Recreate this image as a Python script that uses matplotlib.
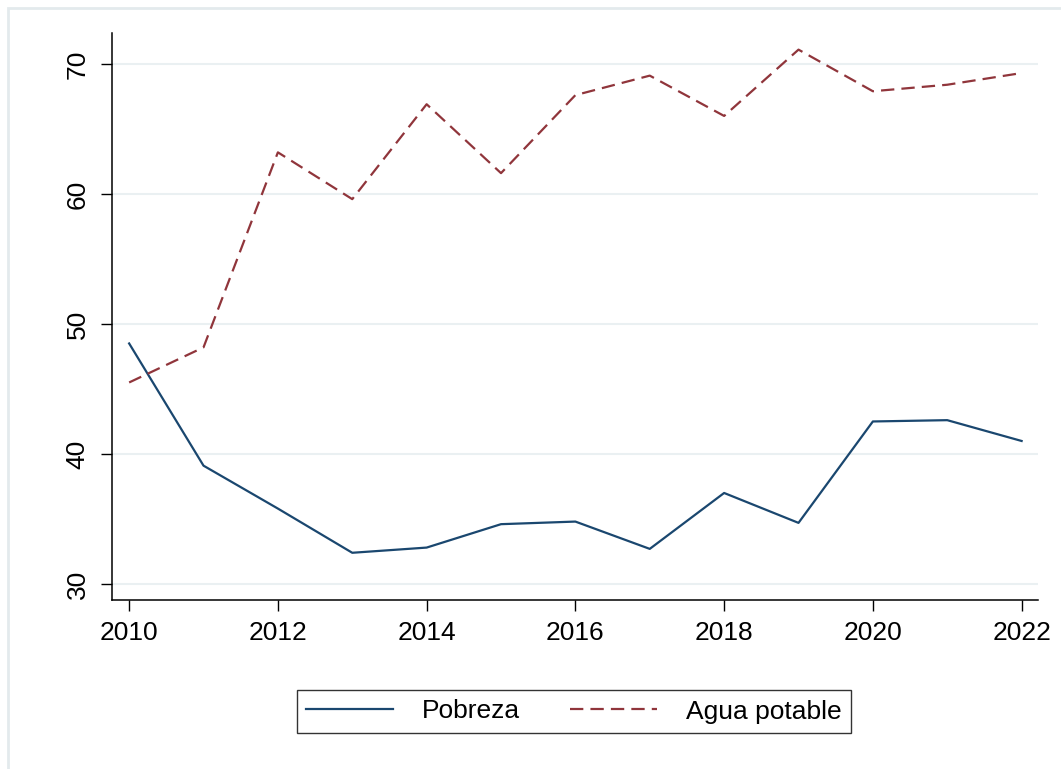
import matplotlib
matplotlib.use("Agg")
import matplotlib.pyplot as plt
from matplotlib.patches import Rectangle

plt.rcParams["font.family"] = ["Liberation Sans", "DejaVu Sans"]

years = [2010, 2011, 2012, 2013, 2014, 2015, 2016, 2017, 2018, 2019, 2020, 2021, 2022]
pobreza = [48.5, 39.1, 35.8, 32.4, 32.8, 34.6, 34.8, 32.7, 37.0, 34.7, 42.5, 42.6, 41.0]
agua = [45.5, 48.2, 63.2, 59.6, 66.9, 61.6, 67.6, 69.1, 66.0, 71.1, 67.9, 68.4, 69.3]
xticks = [2010, 2012, 2014, 2016, 2018, 2020, 2022]
yticks = [30, 40, 50, 60, 70]

NAVY = "#1a476f"
MAROON = "#90353b"
GRID = "#eaf0f2"

fig = plt.figure(figsize=(10.61, 7.69), dpi=100)
ax = fig.add_axes([0.1056, 0.2198, 0.8727, 0.7373])

# light outer frame of the graph region
fig.patches.append(Rectangle((7.5 / 1061, -0.05), 1.1, 1 - 7.5 / 769 + 0.05,
                             transform=fig.transFigure, fill=False,
                             ec="#e3eaed", lw=2.0, zorder=0))

ax.plot(years, pobreza, color=NAVY, lw=1.6, label="Pobreza", zorder=3)
ax.plot(years, agua, color=MAROON, lw=1.6, dashes=(6.0, 3.2),
        label="Agua potable", zorder=3)

ax.set_xlim(2009.77, 2022.22)
ax.set_ylim(28.77, 72.38)
ax.set_xticks(xticks)
ax.set_yticks(yticks)
ax.yaxis.grid(True, color=GRID, lw=1.5, zorder=0)
ax.set_axisbelow(True)

for s in ("top", "right"):
    ax.spines[s].set_visible(False)
for s in ("left", "bottom"):
    ax.spines[s].set_linewidth(1.1)
    ax.spines[s].set_color("black")

ax.tick_params(axis="both", length=8, width=1.0, labelsize=19, pad=7)
ax.tick_params(axis="y", pad=8)
for lab in ax.get_yticklabels():
    lab.set_rotation(90)
    lab.set_va("center")

leg = fig.legend(loc="center", bbox_to_anchor=(574 / 1061, 1 - 711.5 / 769),
                 ncol=2, fontsize=19, frameon=True, fancybox=False,
                 edgecolor="black", handlelength=3.3, columnspacing=1.9,
                 handletextpad=1.1, borderpad=0.35)
leg.get_frame().set_linewidth(1.0)

fig.savefig("out.png", dpi=100, facecolor="white")
